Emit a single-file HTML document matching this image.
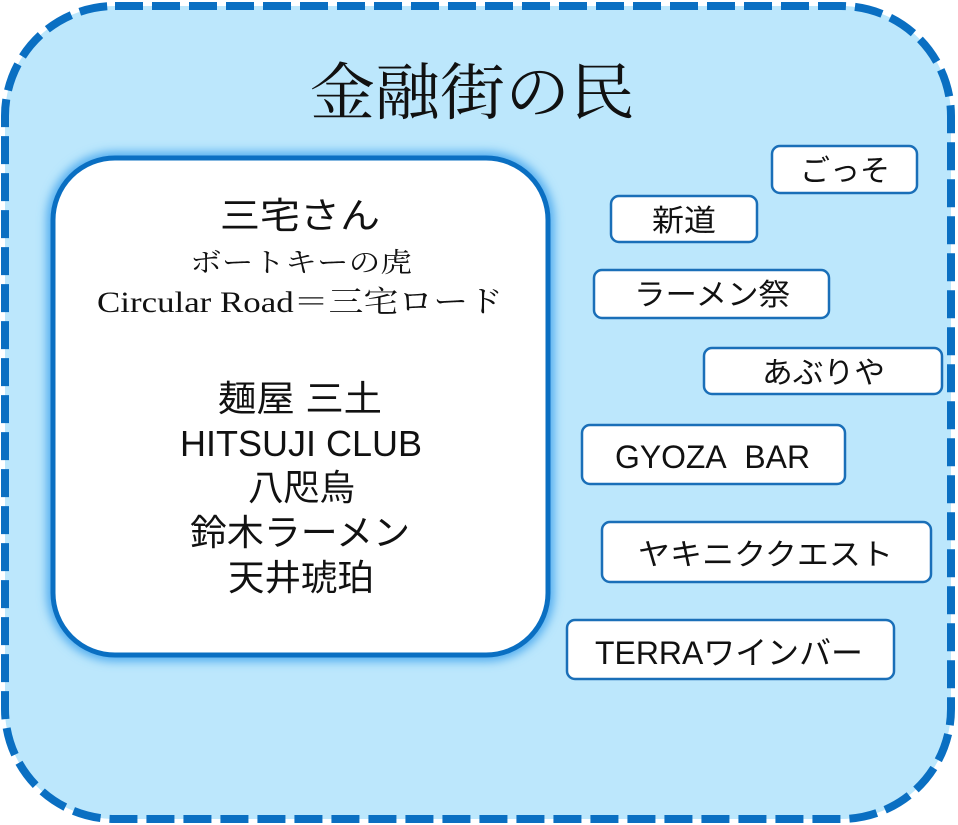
<!DOCTYPE html>
<html><head><meta charset="utf-8"><style>
html,body{margin:0;padding:0;background:#fff;}
svg{display:block;}
.s{font-family:"Liberation Sans","Noto Sans CJK JP",sans-serif;fill:#111;}
.r{font-family:"Liberation Serif","Noto Serif CJK SC",serif;fill:#111;}
</style></head><body>
<svg width="958" height="825" viewBox="0 0 958 825" xmlns="http://www.w3.org/2000/svg">
<defs>
<filter id="g" x="-10%" y="-10%" width="120%" height="120%"><feGaussianBlur stdDeviation="5"/></filter>
</defs>
<rect x="5" y="6" width="946" height="813" rx="110" fill="#bce7fc" stroke="#0a6fc2" stroke-width="8" stroke-dasharray="28 9"/>
<text x="310" y="114" class="r" font-size="62" textLength="325" lengthAdjust="spacingAndGlyphs">金融街の民</text>
<rect x="53" y="158" width="495" height="497" rx="62" fill="none" stroke="#4aa8ee" stroke-width="12" filter="url(#g)"/>
<rect x="53" y="158" width="495" height="497" rx="62" fill="#fff" stroke="#0a6fc2" stroke-width="5"/>
<g lengthAdjust="spacingAndGlyphs">
<text x="220" y="228" class="s" font-size="36" textLength="160" lengthAdjust="spacingAndGlyphs">三宅さん</text>
<text x="190" y="272" class="r" font-size="27" textLength="222" lengthAdjust="spacingAndGlyphs">ボートキーの虎</text>
<text x="97" y="312" class="r" font-size="30" textLength="406" lengthAdjust="spacingAndGlyphs">Circular Road＝三宅ロード</text>
<text x="218" y="411" class="s" font-size="36" textLength="164" lengthAdjust="spacingAndGlyphs">麺屋 三土</text>
<text x="180" y="456" class="s" font-size="36" textLength="242" lengthAdjust="spacingAndGlyphs">HITSUJI CLUB</text>
<text x="248" y="500" class="s" font-size="36" textLength="107" lengthAdjust="spacingAndGlyphs">八咫烏</text>
<text x="190" y="545" class="s" font-size="36" textLength="220" lengthAdjust="spacingAndGlyphs">鈴木ラーメン</text>
<text x="228" y="590" class="s" font-size="36" textLength="146" lengthAdjust="spacingAndGlyphs">天井琥珀</text>
</g>
<g fill="#fff" stroke="#1a6fb8" stroke-width="2.5">
<rect x="772" y="146" width="145" height="47" rx="8"/>
<rect x="611" y="196" width="146" height="46" rx="8"/>
<rect x="594" y="270" width="235" height="48" rx="8"/>
<rect x="704" y="348" width="238" height="46" rx="8"/>
<rect x="582" y="425" width="263" height="59" rx="8"/>
<rect x="602" y="522" width="329" height="60" rx="8"/>
<rect x="567" y="620" width="327" height="59" rx="8"/>
</g>
<g class="s" font-size="30">
<text x="800" y="181" textLength="90" lengthAdjust="spacingAndGlyphs">ごっそ</text>
<text x="652" y="231" textLength="64" lengthAdjust="spacingAndGlyphs">新道</text>
<text x="634" y="305" textLength="156" lengthAdjust="spacingAndGlyphs">ラーメン祭</text>
<text x="762" y="383" textLength="123" lengthAdjust="spacingAndGlyphs">あぶりや</text>
<text x="615" y="468" font-size="32" textLength="195" lengthAdjust="spacingAndGlyphs">GYOZA&#160; BAR</text>
<text x="638" y="565" textLength="255" lengthAdjust="spacingAndGlyphs">ヤキニククエスト</text>
<text x="595" y="664" font-size="32" textLength="268" lengthAdjust="spacingAndGlyphs">TERRAワインバー</text>
</g>
</svg>
</body></html>
